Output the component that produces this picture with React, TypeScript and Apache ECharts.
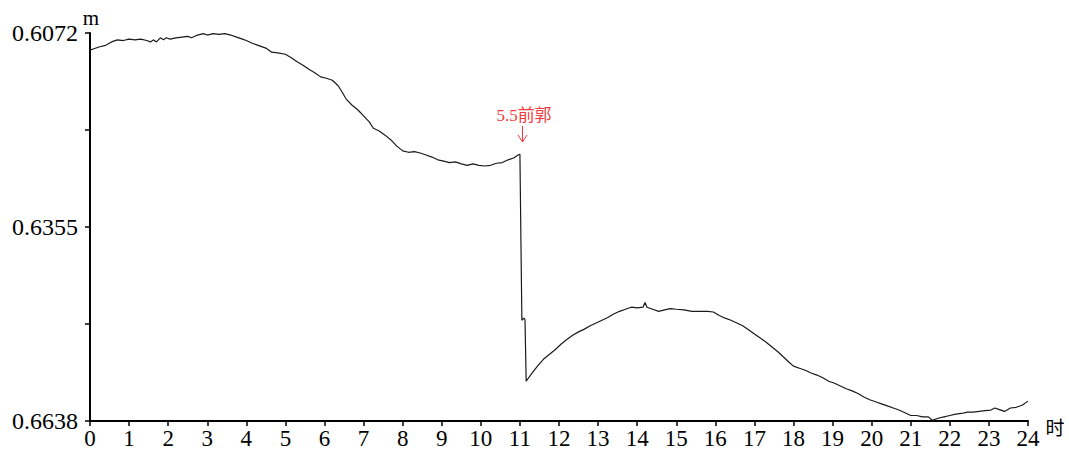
import React, { useEffect, useRef } from "react";
import * as echarts from "echarts";

const hours = [
  0.0, 0.1, 0.25, 0.4, 0.55, 0.7, 0.85, 1.0, 1.15, 1.3, 1.45, 1.55, 1.62, 1.7, 1.8, 1.88, 1.95,
  2.05, 2.2, 2.35, 2.5, 2.6, 2.75, 2.9, 3.0, 3.15, 3.3, 3.45, 3.6, 3.75, 3.9, 4.0, 4.15, 4.3,
  4.5, 4.65, 4.8, 5.0, 5.15, 5.3, 5.45, 5.6, 5.75, 5.9, 6.05, 6.2, 6.35, 6.45, 6.55, 6.7, 6.85,
  7.0, 7.15, 7.25, 7.4, 7.55, 7.7, 7.85, 8.0, 8.15, 8.3, 8.45, 8.6, 8.75, 8.9, 9.05, 9.2, 9.35,
  9.5, 9.65, 9.8, 9.95, 10.1, 10.25, 10.4, 10.55, 10.7, 10.85, 10.95, 11.0, 11.05, 11.1, 11.13,
  11.16, 11.3, 11.45, 11.6, 11.75, 11.9, 12.05, 12.2, 12.35, 12.5, 12.65, 12.8, 12.95, 13.1,
  13.25, 13.4, 13.55, 13.7, 13.85, 14.0, 14.15, 14.2, 14.25, 14.4, 14.55, 14.7, 14.85, 15.0,
  15.2, 15.4, 15.6, 15.8, 15.95, 16.1, 16.25, 16.4, 16.55, 16.7, 16.85, 17.0, 17.15, 17.3,
  17.45, 17.6, 17.75, 17.9, 18.0, 18.15, 18.3, 18.45, 18.6, 18.75, 18.9, 19.05, 19.2, 19.35,
  19.5, 19.65, 19.8, 19.95, 20.1, 20.25, 20.4, 20.55, 20.7, 20.85, 21.0, 21.15, 21.3, 21.45,
  21.55, 21.7, 21.85, 22.0, 22.15, 22.3, 22.45, 22.6, 22.75, 22.9, 23.05, 23.15, 23.25, 23.4,
  23.55, 23.7, 23.85, 24.0,
];

const levels = [
  0.6097, 0.6095, 0.6092, 0.609, 0.6085, 0.6082, 0.6083, 0.6081, 0.6082, 0.6081, 0.6083, 0.6085,
  0.6082, 0.6085, 0.6079, 0.6082, 0.6079, 0.6081, 0.6079, 0.6078, 0.6077, 0.6079, 0.6075,
  0.6073, 0.6075, 0.6073, 0.6074, 0.6073, 0.6075, 0.6078, 0.6081, 0.6083, 0.6087, 0.609,
  0.6094, 0.61, 0.6101, 0.6103, 0.6108, 0.6114, 0.6119, 0.6125, 0.613, 0.6136, 0.6138, 0.6141,
  0.6149, 0.6158, 0.6168, 0.6177, 0.6184, 0.6193, 0.6202, 0.6211, 0.6215, 0.6221, 0.6228,
  0.6237, 0.6244, 0.6246, 0.6245, 0.6247, 0.625, 0.6253, 0.6257, 0.6259, 0.6261, 0.626, 0.6263,
  0.6265, 0.6263, 0.6265, 0.6266, 0.6265, 0.6262, 0.6261, 0.6257, 0.6254, 0.625, 0.6249,
  0.6491, 0.6488, 0.649, 0.658, 0.6569, 0.6558, 0.6548, 0.6541, 0.6534, 0.6526, 0.6519, 0.6513,
  0.6508, 0.6504, 0.6499, 0.6495, 0.6491, 0.6487, 0.6482, 0.6478, 0.6475, 0.6472, 0.6473,
  0.6472, 0.6465, 0.6472, 0.6475, 0.6478, 0.6476, 0.6474, 0.6475, 0.6476, 0.6478, 0.6478,
  0.6478, 0.6479, 0.6484, 0.6488, 0.6491, 0.6495, 0.6499, 0.6505, 0.6511, 0.6517, 0.6523,
  0.653, 0.6537, 0.6545, 0.6553, 0.6558, 0.6561, 0.6564, 0.6568, 0.6571, 0.6575, 0.658, 0.6583,
  0.6587, 0.6591, 0.6594, 0.6598, 0.6603, 0.6607, 0.661, 0.6613, 0.6616, 0.6619, 0.6622,
  0.6626, 0.663, 0.663, 0.6632, 0.6632, 0.6637, 0.6634, 0.6632, 0.663, 0.6628, 0.6627, 0.6625,
  0.6625, 0.6624, 0.6623, 0.6622, 0.6619, 0.6621, 0.6624, 0.6619, 0.6618, 0.6615, 0.6609,
];

const yLabelValues = [0.6072, 0.6355, 0.6638];
const yTickValues = [0.6072, 0.62135, 0.6355, 0.64965, 0.6638];
const annotationText = "5.5前郭";
const yUnit = "m";
const xUnit = "时";

const SERIF = "Liberation Serif";

export default function App() {
  const ref = useRef<HTMLDivElement>(null);
  useEffect(() => {
    if (!ref.current) return;
    const chart = echarts.init(ref.current, null, { renderer: "svg" });
    const data = hours.map((h, i) => [h, levels[i]]);
    chart.setOption({
      animation: false,
      backgroundColor: "#ffffff",
      grid: { left: 90, right: 41, top: 33, bottom: 30, containLabel: false },
      xAxis: {
        type: "value",
        min: 0,
        max: 24,
        interval: 1,
        axisLine: { show: true, onZero: false, lineStyle: { color: "#000", width: 2 } },
        axisTick: { show: true, inside: false, length: 5, lineStyle: { color: "#000", width: 1.5 } },
        axisLabel: { color: "#000", fontSize: 23, fontFamily: SERIF, margin: 6 },
        splitLine: { show: false },
      },
      yAxis: {
        type: "value",
        inverse: true,
        min: 0.6072,
        max: 0.6638,
        axisLine: { show: true, onZero: false, lineStyle: { color: "#000", width: 2 } },
        axisTick: {
          show: true,
          inside: false,
          length: 5,
          customValues: yTickValues,
          lineStyle: { color: "#000", width: 1.5 },
        },
        axisLabel: {
          color: "#000",
          fontSize: 24,
          fontFamily: SERIF,
          margin: 12,
          customValues: yLabelValues,
          formatter: (v: number) => v.toFixed(4),
        },
        splitLine: { show: false },
      },
      series: [
        {
          type: "line",
          data,
          showSymbol: false,
          symbol: "none",
          lineStyle: { color: "#1a1a1a", width: 1.2 },
        },
      ],
      graphic: [
        {
          type: "text",
          x: 91,
          y: 18,
          style: { text: yUnit, fill: "#000", fontFamily: SERIF, fontSize: 21, align: "center", verticalAlign: "middle" },
        },
        {
          type: "text",
          x: 1055,
          y: 426,
          style: { text: xUnit, fill: "#000", fontFamily: "Noto Sans CJK SC", fontSize: 19, align: "center", verticalAlign: "middle" },
        },
        {
          type: "text",
          x: 524,
          y: 115,
          style: { text: annotationText, fill: "#f03c3c", font: "17px 'Liberation Serif', 'Noto Sans CJK SC', serif", align: "center", verticalAlign: "middle" },
        },
        {
          type: "line",
          shape: { x1: 522.5, y1: 126, x2: 522.5, y2: 142 },
          style: { stroke: "#f03c3c", lineWidth: 1 },
        },
        {
          type: "polyline",
          shape: { points: [[518, 135], [522.5, 142], [527, 135]] },
          style: { stroke: "#f03c3c", lineWidth: 1, fill: null },
        },
      ],
    });
    return () => chart.dispose();
  }, []);
  return (
    <div
      ref={ref}
      style={{ position: "fixed", left: 0, top: 0, width: 1069, height: 451, background: "#fff" }}
    />
  );
}
